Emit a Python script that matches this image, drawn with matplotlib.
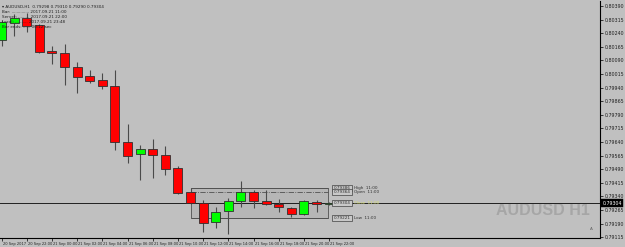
import matplotlib
matplotlib.use("Agg")
import matplotlib.pyplot as plt
import matplotlib.transforms as mtransforms
from matplotlib.patches import Rectangle

# H1 candles, 20 Sep 2017 20:00 .. 21 Sep 2017 22:00
opens = [0.80203, 0.80296, 0.80324, 0.80285, 0.80142, 0.80131, 0.80054, 0.80004, 0.79982,
         0.79949, 0.79640, 0.79574, 0.79601, 0.79568, 0.79497, 0.79364, 0.79304, 0.79199,
         0.79260, 0.79315, 0.79364, 0.79315, 0.79298, 0.79276, 0.79243, 0.79309, 0.79298]
highs = [0.80313, 0.80346, 0.80351, 0.80291, 0.80169, 0.80180, 0.80081, 0.80037, 0.80021,
         0.80037, 0.79739, 0.79623, 0.79657, 0.79618, 0.79508, 0.79386, 0.79320, 0.79282,
         0.79331, 0.79425, 0.79375, 0.79375, 0.79326, 0.79282, 0.79320, 0.79320, 0.79309]
lows = [0.80169, 0.80225, 0.80247, 0.80131, 0.80070, 0.79954, 0.79910, 0.79965, 0.79932,
        0.79596, 0.79524, 0.79430, 0.79441, 0.79458, 0.79353, 0.79298, 0.79144, 0.79166,
        0.79133, 0.79282, 0.79276, 0.79293, 0.79254, 0.79226, 0.79237, 0.79254, 0.79293]
closes = [0.80302, 0.80324, 0.80280, 0.80136, 0.80131, 0.80054, 0.79998, 0.79976, 0.79949,
          0.79640, 0.79563, 0.79601, 0.79568, 0.79491, 0.79359, 0.79304, 0.79193, 0.79254,
          0.79315, 0.79364, 0.79315, 0.79298, 0.79282, 0.79243, 0.79315, 0.79298, 0.79304]

time_labels = ["20 Sep 2017", "20 Sep 22:00", "21 Sep 00:00", "21 Sep 02:00", "21 Sep 04:00",
               "21 Sep 06:00", "21 Sep 08:00", "21 Sep 10:00", "21 Sep 12:00", "21 Sep 14:00",
               "21 Sep 16:00", "21 Sep 18:00", "21 Sep 20:00", "21 Sep 22:00"]
price_ticks = [0.80390, 0.80315, 0.80240, 0.80165, 0.80090, 0.80015, 0.79940, 0.79865, 0.79790,
               0.79715, 0.79640, 0.79565, 0.79490, 0.79415, 0.79340, 0.79265, 0.79190, 0.79115]

# levels of the 11:00 bar
level_names = ["High", "Open", "Close", "Low"]
level_prices = [0.79386, 0.79364, 0.79304, 0.79221]
level_start = 15
level_end = 25.9
current_price = 0.79304

header = ["\u25be AUDUSD,H1  0.79298 0.79310 0.79290 0.79304",
          "Bar: .............. 2017.09.21 11:00",
          "Server: ......... 2017.09.21 22:00",
          "Local: .......... 2017.09.21 23:48",
          "Bar ends: ...... 00:12 sec"]

BG = "#c0c0c0"

fig = plt.figure(figsize=(6.25, 2.47), dpi=100, facecolor=BG)
ax = fig.add_axes([0, 9 / 247, 600 / 625, 237 / 247], facecolor=BG)

n = len(opens)
xs = list(range(n))
body_w = 0.71

ax.vlines(xs, lows, highs, color="#4a4a4a", lw=0.8, zorder=2)
for x, o, c in zip(xs, opens, closes):
    color = "#00ff00" if c >= o else "#ff0000"
    bottom = min(o, c)
    height = max(abs(c - o), 0.00002)
    ax.bar(x, height, bottom=bottom, width=body_w, color=color,
           edgecolor="#303030", lw=0.6, zorder=3)

# shaded box over the 11:00 levels
ax.add_patch(Rectangle((level_start, level_prices[3]), level_end - level_start,
                       level_prices[0] - level_prices[3], facecolor="#b6b6b6",
                       edgecolor="#505050", lw=0.6, zorder=1))
styles = ["-", "-.", "-", "-"]
for name, p, ls in zip(level_names, level_prices, styles):
    ax.hlines(p, level_start, level_end, color="#505050", lw=0.6, linestyles=ls, zorder=1.5)
    ax.text(level_end + 0.45, p, "%.5f" % p, fontsize=3.0, va="center", ha="left",
            color="#303030", zorder=5,
            bbox=dict(boxstyle="square,pad=0.3", fc="#c8c8c8", ec="#404040", lw=0.5))
    tcolor = "#d8e070" if name == "Close" else "#303030"
    ax.text(level_end + 2.1, p, "%s  11:00" % name, fontsize=3.0, va="center",
            ha="left", color=tcolor, zorder=5)

# current price line
ax.axhline(current_price, color="#202020", lw=0.7, zorder=1.8)

# watermark
ax.text(0.905, 0.115, "AUDUSD H1", transform=ax.transAxes, fontsize=11.5,
        fontweight="bold", family="Liberation Sans", color="#a6a6a6",
        ha="center", va="center", zorder=0.5)

ax.set_xlim(-0.12, -0.12 + 600 / 12.6)
ax.set_ylim(0.79111, 0.80418)

for s in ["top", "left"]:
    ax.spines[s].set_visible(False)
ax.spines["right"].set_color("black")
ax.spines["bottom"].set_color("black")
ax.spines["right"].set_linewidth(0.8)
ax.spines["bottom"].set_linewidth(0.8)

ax.yaxis.tick_right()
ax.set_yticks(price_ticks)
ax.set_yticklabels(["%.5f" % p for p in price_ticks])
ax.tick_params(axis="y", length=2, width=0.6, pad=1.5, labelsize=3.4, colors="#202020")

ax.set_xticks(list(range(0, n, 2)))
ax.set_xticklabels(time_labels, ha="left")
ax.tick_params(axis="x", length=2, width=0.6, pad=0.8, labelsize=2.6, colors="#202020")
offset = mtransforms.ScaledTranslation(1.0 / 100, 0, fig.dpi_scale_trans)
for lbl in ax.get_xticklabels():
    lbl.set_transform(lbl.get_transform() + offset)

# current price marker on the axis
trans = mtransforms.blended_transform_factory(ax.transAxes, ax.transData)
ax.text(1.004, current_price, "%.5f" % current_price, transform=trans, fontsize=3.4,
        color="white", va="center", ha="left", zorder=6, clip_on=False,
        bbox=dict(boxstyle="square,pad=0.25", fc="black", ec="black", lw=0.3))

for i, line in enumerate(header):
    ax.text(0.004, 0.985 - i * 0.022, line, transform=ax.transAxes, fontsize=3.0,
            color="#202020", va="top", ha="left", zorder=6)

ax.text(0.985, 0.03, "A", transform=ax.transAxes, fontsize=3, color="#606060",
        ha="center", va="bottom")

fig.savefig("out.png", dpi=100, facecolor=BG)
